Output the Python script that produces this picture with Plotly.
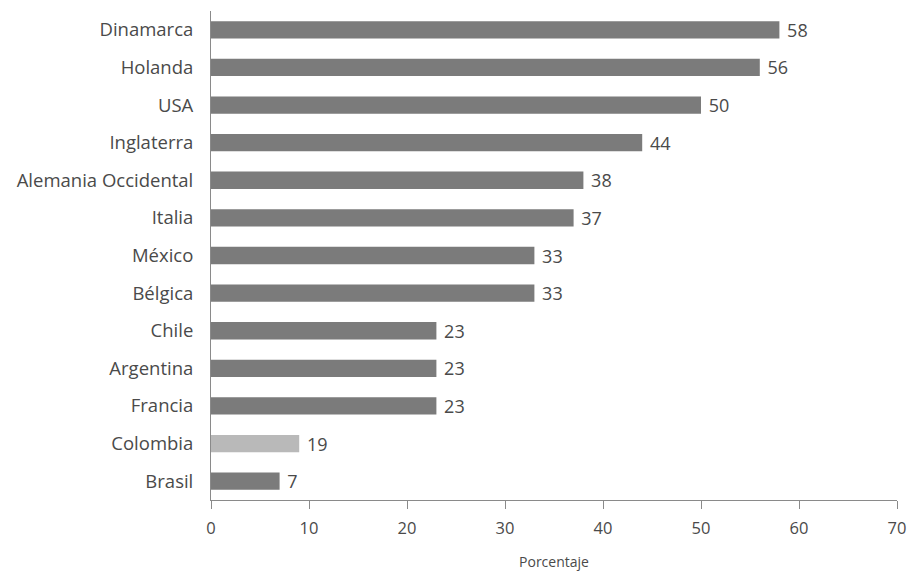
import plotly.graph_objects as go

countries = ["Dinamarca", "Holanda", "USA", "Inglaterra", "Alemania Occidental",
             "Italia", "México", "Bélgica", "Chile", "Argentina", "Francia",
             "Colombia", "Brasil"]
# bar lengths as drawn in the reference (Colombia's bar is drawn at ~9)
bar_lengths = [58, 56, 50, 44, 38, 37, 33, 33, 23, 23, 23, 9, 7]
# value labels printed next to the bars
value_labels = ["58", "56", "50", "44", "38", "37", "33", "33", "23", "23", "23", "19", "7"]
highlight = "Colombia"
x_ticks = [0, 10, 20, 30, 40, 50, 60, 70]

colors = ["#b9b9b9" if c == highlight else "#7b7b7b" for c in countries]

fig = go.Figure(go.Bar(
    y=countries, x=bar_lengths, orientation="h",
    marker=dict(color=colors, line=dict(width=0)),
    width=0.46,
    text=value_labels, texttemplate=" %{text}",
    textposition="outside", constraintext="none",
    textfont=dict(size=18, color="#4a4a4a", family="Open Sans"),
    cliponaxis=False,
))

fig.update_layout(
    width=917, height=581,
    margin=dict(l=211, r=13, t=11, b=81),
    paper_bgcolor="white", plot_bgcolor="white",
    font=dict(family="Open Sans", color="#4a4a4a"),
    showlegend=False,
    uniformtext=dict(mode=False),
    xaxis=dict(
        range=[0, 70], tickvals=x_ticks, showgrid=False, zeroline=False,
        showline=True, linecolor="#8a8a8a", linewidth=1,
        ticks="outside", ticklen=8, tickcolor="#8a8a8a",
        ticklabelstandoff=5,
        tickfont=dict(size=16.5, color="#4a4a4a"),
        title=dict(text="Porcentaje", font=dict(size=14, color="#4a4a4a"), standoff=19),
    ),
    yaxis=dict(
        type="category", categoryorder="array", categoryarray=countries,
        range=[len(countries) - 0.5, -0.5],
        showgrid=False, zeroline=False,
        showline=True, linecolor="#8a8a8a", linewidth=1,
        ticks="", ticklabelstandoff=13,
        tickfont=dict(size=18.5, color="#4a4a4a"),
    ),
)

fig.write_html("out.html")
